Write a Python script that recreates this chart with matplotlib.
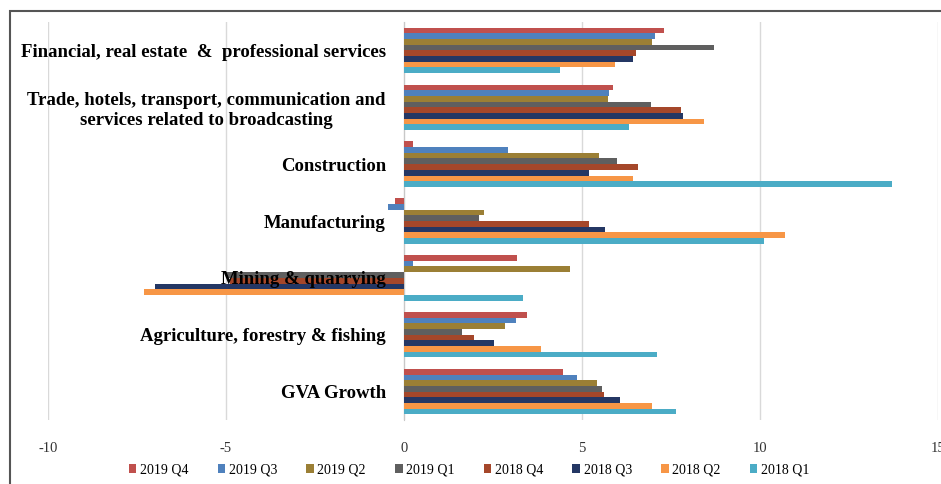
import numpy as np
import matplotlib
matplotlib.use("Agg")
import matplotlib.pyplot as plt
from matplotlib.patches import Rectangle

plt.rcParams["axes.unicode_minus"] = False

# categorias de cima para baixo
setores = ["Financial, real estate  &  professional services",
           "Trade, hotels, transport, communication and\nservices related to broadcasting",
           "Construction",
           "Manufacturing",
           "Mining & quarrying",
           "Agriculture, forestry & fishing",
           "GVA Growth"]

series = ["2019 Q4", "2019 Q3", "2019 Q2", "2019 Q1",
          "2018 Q4", "2018 Q3", "2018 Q2", "2018 Q1"]

# valores (um por setor, na mesma ordem)
q4_2019 = [7.3, 5.88, 0.25, -0.25, 3.18, 3.45, 4.46]
q3_2019 = [7.05, 5.77, 2.91, -0.45, 0.25, 3.14, 4.85]
q2_2019 = [6.96, 5.72, 5.49, 2.25, 4.65, 2.83, 5.41]
q1_2019 = [8.71, 6.93, 5.99, 2.12, -5.0, 1.62, 5.55]
q4_2018 = [6.52, 7.78, 6.57, 5.2, -4.9, 1.96, 5.62]
q3_2018 = [6.44, 7.83, 5.2, 5.64, -7.0, 2.52, 6.07]
q2_2018 = [5.94, 8.43, 6.43, 10.7, -7.3, 3.84, 6.96]
q1_2018 = [4.39, 6.33, 13.7, 10.1, 3.33, 7.1, 7.63]

valores = [q4_2019, q3_2019, q2_2019, q1_2019, q4_2018, q3_2018, q2_2018, q1_2018]
cores = ["#c0504d", "#4f81bd", "#9b7f35", "#5f5f5f",
         "#a5472a", "#243764", "#f79646", "#4bacc6"]

fonte = "Liberation Serif"

fig = plt.figure(figsize=(9.41, 4.84), dpi=100)
ax = fig.add_axes([48/941, 64/484, 890/941, 398/484])

# linhas de grade desenhadas por baixo das barras
for xv in np.arange(-10, 16, 5):
    ax.axvline(xv, color="#d9d9d9", linewidth=1, zorder=0)

y = np.arange(len(setores))
h = 0.1
for i in range(len(series)):
    ax.barh(y + (i - 3.5) * h, valores[i], height=h, color=cores[i],
            label=series[i], zorder=1)

for s in ["top", "right", "bottom"]:
    ax.spines[s].set_visible(False)
ax.spines["left"].set_position(("data", 0))
ax.spines["left"].set_color("#c8c8c8")
ax.spines["left"].set_zorder(0)

ax.set_xlim(-10, 15)
ax.set_ylim(len(setores) - 0.5, -0.5)
ax.set_xticks(np.arange(-10, 16, 5))
ax.set_yticks(y)
ax.set_yticklabels(setores, fontfamily=fonte, fontweight="bold",
                   fontsize=13.5, multialignment="center")
ax.tick_params(axis="y", length=0, pad=13)
ax.tick_params(axis="x", length=0, pad=16)
for lbl in ax.get_xticklabels():
    lbl.set_fontfamily(fonte)
    lbl.set_fontsize(10.5)
    lbl.set_color("#333333")

ax.legend(loc="upper center", bbox_to_anchor=(0.473, -0.095), ncol=8,
          frameon=False, prop={"family": fonte, "size": 10},
          handlelength=0.55, handleheight=0.55, handletextpad=0.25,
          columnspacing=2.1, borderaxespad=0)

# moldura do grafico (direita e baixo cortadas na imagem original)
fig.patches.append(Rectangle((10/941, -0.1), 1.2, (484 - 11)/484 + 0.1,
                             transform=fig.transFigure, fill=False,
                             edgecolor="#555555", linewidth=1.5))

fig.savefig("out.png", dpi=100)
